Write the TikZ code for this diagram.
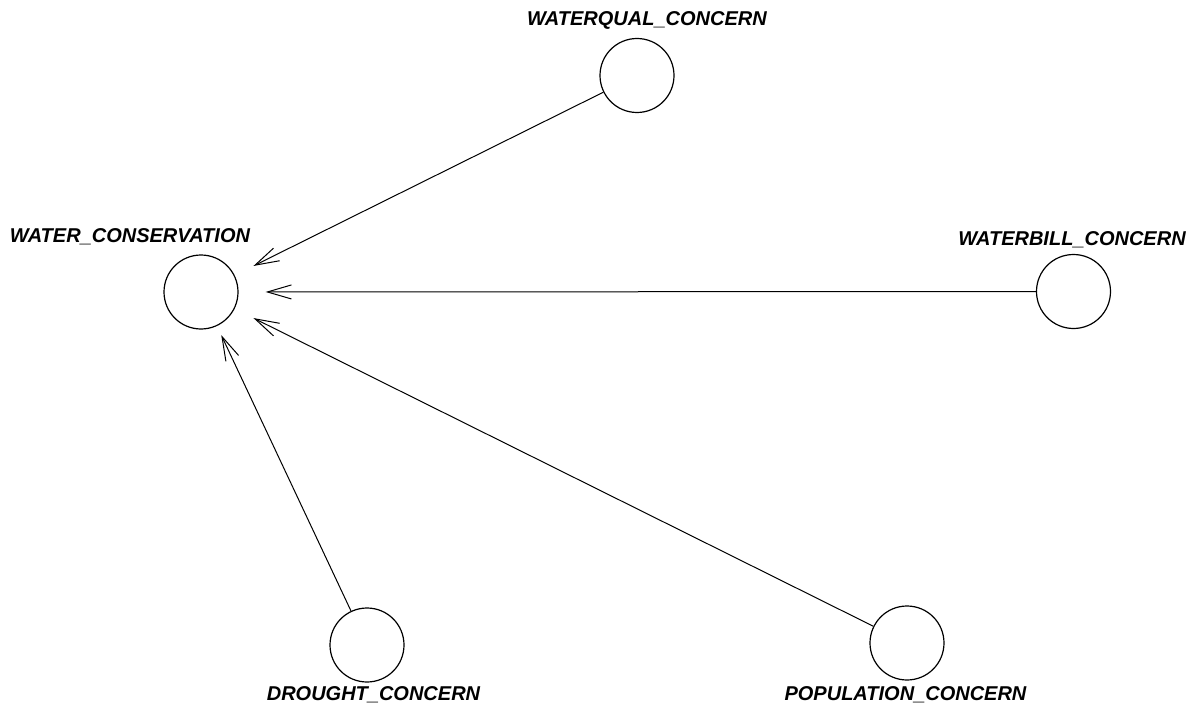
\documentclass[tikz,border=0pt]{standalone}
\usepackage{fontspec}
\setmainfont{Liberation Sans}
\usetikzlibrary{arrows.meta}
\begin{document}
\begin{tikzpicture}[x=1pt,y=-1pt,
  var/.style={circle,draw,line width=1.2pt,minimum size=74pt,inner sep=0pt},
  lbl/.style={anchor=base,inner sep=0pt,font=\fontsize{20}{24}\selectfont\bfseries\itshape},
  arr/.style={line width=1pt,-{Straight Barb[length=24pt,width=14pt,line width=1pt]}}]
\useasboundingbox (0,0) rectangle (1195,706);
\node[var] (wc) at (201,292) {};
\node[var] (wq) at (637,75.5) {};
\node[var] (wb) at (1073.5,291.5) {};
\node[var] (dr) at (367,645) {};
\node[var] (po) at (907,643) {};
\node[lbl] (lwc) at (130,243) {WATER\_CONSERVATION};
\node[lbl] (lwq) at (647,26) {WATERQUAL\_CONCERN};
\node[lbl] (lwb) at (1072,245) {WATERBILL\_CONCERN};
\node[lbl] (ldr) at (373.5,700) {DROUGHT\_CONCERN};
\node[lbl] (lpo) at (905.5,700) {POPULATION\_CONCERN};
\draw[arr,shorten >=21pt] (wq) -- (wc);
\draw[arr,shorten >=27pt] (wb) -- (wc);
\draw[arr,shorten >=21pt] (po) -- (wc);
\draw[arr,shorten >=10pt] (dr) -- (wc);
\end{tikzpicture}
\end{document}
